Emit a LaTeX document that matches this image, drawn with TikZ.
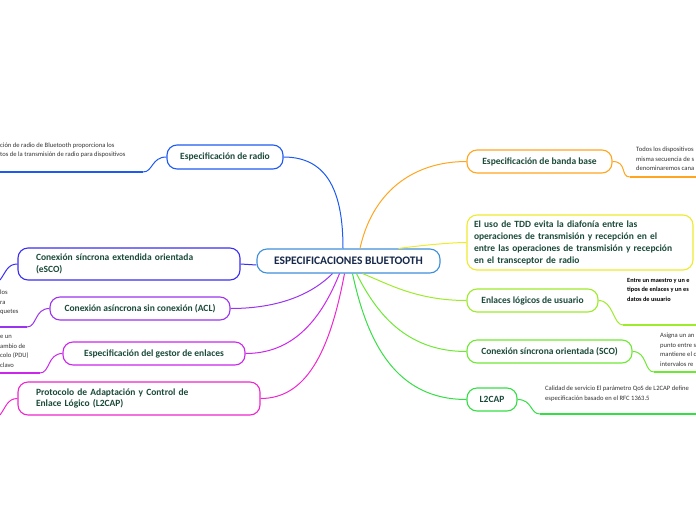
\documentclass[tikz,border=0pt]{standalone}
\usepackage{fontspec}
\setmainfont{Carlito}
\usetikzlibrary{positioning}
\definecolor{verde}{HTML}{1B4A3A}
\definecolor{marino}{HTML}{16284A}
\definecolor{cbase}{HTML}{3E8FDA}
\definecolor{cradio}{HTML}{1E5AF2}
\definecolor{cbanda}{HTML}{FFA51F}
\definecolor{ctdd}{HTML}{EEEA2E}
\definecolor{cenl}{HTML}{9DEB2A}
\definecolor{csco}{HTML}{6FE834}
\definecolor{cl2}{HTML}{35DE45}
\definecolor{cesco}{HTML}{3A2EF0}
\definecolor{cacl}{HTML}{9A34EE}
\definecolor{cgest}{HTML}{CC26EC}
\definecolor{cprot}{HTML}{EE26CE}
\begin{document}
\begin{tikzpicture}[x=1pt,y=-1pt,
  nodo/.style={draw,rounded corners=10pt,line width=1.1pt,fill=white,text=verde,font=\bfseries\fontsize{9.5}{11.5}\selectfont,minimum height=23pt,inner sep=0pt},
  hoja/.style={anchor=north west,inner sep=0pt,align=left,text=black!80,font=\fontsize{6.6}{9.6}\selectfont},
  rama/.style={line width=1pt},
  base/.style={line width=1.8pt}]
  \useasboundingbox (0,0) rectangle (696,520);
  \clip (0,0) rectangle (696,520);
  % ramas principales
  \node[nodo,draw=cbase,text=marino,font=\bfseries\fontsize{11.5}{13}\selectfont,minimum width=183pt,minimum height=24pt] (central) at (348.5,261) {ESPECIFICACIONES BLUETOOTH};
  \node[nodo,draw=cradio,minimum width=116pt,minimum height=24pt] (radio) at (225,157) {Especificación de radio};
  \node[nodo,draw=cbanda,minimum width=145pt] (banda) at (539.5,161.5) {Especificación de banda base};
  \node[nodo,draw=ctdd,minimum width=226pt,minimum height=55pt,text width=212pt,align=left,font=\bfseries\fontsize{9.5}{12}\selectfont] (tdd) at (580,242.5) {El uso de TDD evita la diafonía entre las\\operaciones de transmisión y recepción en el\\entre las operaciones de transmisión y recepción\\en el transceptor de radio};
  \node[nodo,draw=cenl,minimum width=131pt] (enlaces) at (532.5,300.5) {Enlaces lógicos de usuario};
  \node[nodo,draw=csco,minimum width=165pt] (sco) at (549.5,351.5) {Conexión síncrona orientada (SCO)};
  \node[nodo,draw=cl2,minimum width=50pt] (l2cap) at (492,399.5) {L2CAP};
  \node[nodo,draw=cesco,minimum width=222pt,minimum height=32pt,text width=186pt,align=left] (esco) at (129,264) {Conexión síncrona extendida orientada\\(eSCO)};
  \node[nodo,draw=cacl,minimum width=180pt] (acl) at (140,308.5) {Conexión asíncrona sin conexión (ACL)};
  \node[nodo,draw=cgest,minimum width=182pt] (gestor) at (154,353.5) {Especificación del gestor de enlaces};
  \node[nodo,draw=cprot,minimum width=242pt,minimum height=33pt,text width=206pt,align=left] (proto) at (139,398.5) {Protocolo de Adaptación y Control de\\Enlace Lógico (L2CAP)};
  \draw[rama,cradio] ([xshift=-5.5pt]central.north) .. controls +(0,-55) and +(45,0) .. (radio.east);
  \draw[rama,cbanda] ([xshift=11.5pt]central.north) .. controls +(12,-55) and +(-55,0) .. (banda.west);
  \draw[rama,ctdd] ([xshift=50pt]central.north) .. controls +(30,-4) and +(-12,0) .. (tdd.west);
  \draw[rama,cenl] ([xshift=14pt]central.south) .. controls +(25,10) and +(-50,0) .. (enlaces.west);
  \draw[rama,csco] ([xshift=8pt]central.south) .. controls +(20,40) and +(-60,0) .. (sco.west);
  \draw[rama,cl2] ([xshift=4pt]central.south) .. controls +(15,70) and +(-70,0) .. (l2cap.west);
  \draw[rama,cacl] ([xshift=-16pt]central.south) .. controls +(-25,25) and +(40,0) .. (acl.east);
  \draw[rama,cgest] ([xshift=-9pt]central.south) .. controls +(-20,50) and +(45,0) .. (gestor.east);
  \draw[rama,cprot] ([xshift=-4pt]central.south) .. controls +(-15,80) and +(45,0) .. (proto.east);
  \draw[rama,cesco] ([yshift=-4pt]central.west) .. controls +(-8,0) and +(8,0) .. (esco.east);
  % hojas
  \node[hoja] (tradio) at (0,142.5) {ción de radio de Bluetooth proporciona los\\tos de la transmisión de radio para dispositivos};
  \coordinate (radioA) at (0,172); \coordinate (radioB) at (143,172);
  \draw[base,cradio] (radioA) -- (radioB); \draw[rama,cradio] (radio.west) .. controls +(-15,0) and +(10,0) .. (radioB);
  \node[hoja] (tbanda) at (636,147) {Todos los dispositivos\\misma secuencia de s\\denominaremos cana};
  \coordinate (bandaA) at (630,177); \coordinate (bandaB) at (696,177);
  \draw[base,cbanda] (bandaA) -- (bandaB); \draw[rama,cbanda] (banda.east) .. controls +(15,0) and +(-10,0) .. (bandaA);
  \node[hoja,font=\bfseries\fontsize{6.3}{9.6}\selectfont,text=black] (tenl) at (627,278) {Entre un maestro y un e\\tipos de enlaces y un es\\datos de usuario};
  \coordinate (enlA) at (623,325); \coordinate (enlB) at (696,325);
  \draw[base,cenl] (enlA) -- (enlB); \draw[rama,cenl] (enlaces.east) .. controls +(15,0) and +(-10,0) .. (enlA);
  \node[hoja] (tsco) at (660,333) {Asigna un an\\punto entre s\\mantiene el c\\intervalos re};
  \coordinate (scoA) at (654,372); \coordinate (scoB) at (696,372);
  \draw[base,csco] (scoA) -- (scoB); \draw[rama,csco] (sco.east) .. controls +(15,0) and +(-10,0) .. (scoA);
  \node[hoja] (tl2) at (545,386) {Calidad de servicio El parámetro QoS de L2CAP define\\especificación basado en el RFC 1363.5};
  \coordinate (l2A) at (540,414); \coordinate (l2B) at (696,414);
  \draw[base,cl2] (l2A) -- (l2B); \draw[rama,cl2] (l2cap.east) .. controls +(15,0) and +(-10,0) .. (l2A);
  \node[hoja] (tacl) at (0,290) {los\\ra\\quetes};
  \coordinate (aclA) at (0,327); \coordinate (aclB) at (27,327);
  \draw[base,cacl] (aclA) -- (aclB); \draw[rama,cacl] (acl.west) .. controls +(-15,0) and +(10,0) .. (aclB);
  \node[hoja] (tgest) at (0,335) {e un\\ambio de\\colo (PDU)\\clavo};
  \coordinate (gestA) at (0,373); \coordinate (gestB) at (40,373);
  \draw[base,cgest] (gestA) -- (gestB); \draw[rama,cgest] (gestor.west) .. controls +(-15,0) and +(10,0) .. (gestB);
  \coordinate (escoA) at (0,280);
  \draw[rama,cesco] (esco.west) .. controls +(-10,0) and +(6,-8) .. (escoA);
  \coordinate (protA) at (0,415);
  \draw[rama,cprot] (proto.west) .. controls +(-10,0) and +(6,-8) .. (protA);
\end{tikzpicture}
\end{document}
